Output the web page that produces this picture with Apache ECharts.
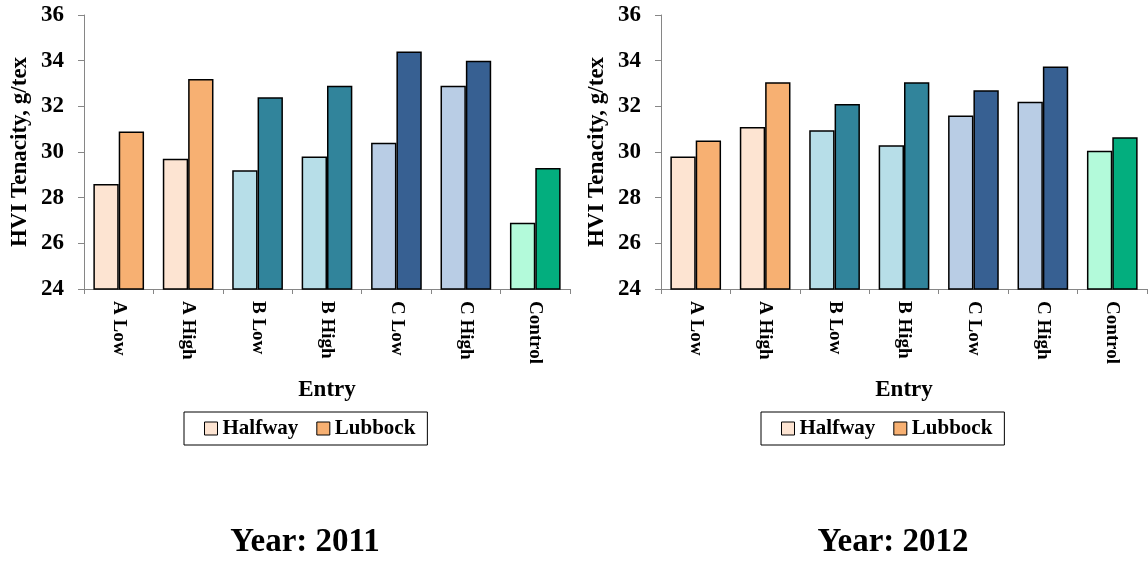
<!DOCTYPE html>
<html>
<head>
<meta charset="utf-8">
<script src="https://cdn.jsdelivr.net/npm/echarts@6/dist/echarts.min.js"></script>
<style>
html,body{margin:0;padding:0;background:#fff;}
#chart{width:1148px;height:561px;}
</style>
</head>
<body>
<div id="chart"></div>
<script>
const categories = ['A Low', 'A High', 'B Low', 'B High', 'C Low', 'C High', 'Control'];
const seriesNames = ['Halfway', 'Lubbock'];
const halfway2011 = [28.6, 29.7, 29.2, 29.8, 30.4, 32.9, 26.9];
const lubbock2011 = [30.9, 33.2, 32.4, 32.9, 34.4, 34.0, 29.3];
const halfway2012 = [29.8, 31.1, 30.95, 30.3, 31.6, 32.2, 30.05];
const lubbock2012 = [30.5, 33.05, 32.1, 33.05, 32.7, 33.75, 30.65];
const halfwayColors = ['#FDE4D2', '#FDE4D2', '#B7DEE8', '#B7DEE8', '#B9CDE5', '#B9CDE5', '#B3FADA'];
const lubbockColors = ['#F7B072', '#F7B072', '#31849B', '#31849B', '#376092', '#376092', '#03AE7E'];
const yTicks = [24, 26, 28, 30, 32, 34, 36];
const yearLabels = ['Year: 2011', 'Year: 2012'];

const FONT = '"Liberation Serif", "Times New Roman", serif';

function mkData(vals, cols) {
  return vals.map((v, i) => ({ value: v, itemStyle: { color: cols[i] } }));
}

const grids = [
  { left: 84, top: 15, width: 486, height: 274 },
  { left: 661, top: 15, width: 486, height: 274 }
];

const xAxes = grids.map((g, i) => ({
  type: 'category',
  gridIndex: i,
  data: categories,
  name: 'Entry',
  nameLocation: 'middle',
  nameGap: 90,
  nameTextStyle: { fontFamily: FONT, fontWeight: 'bold', fontSize: 23, color: '#000' },
  axisLine: { lineStyle: { color: '#868686', width: 1 } },
  axisTick: { show: true, length: 5, lineStyle: { color: '#868686' } },
  axisLabel: { rotate: -90, margin: 12, fontFamily: FONT, fontWeight: 'bold', fontSize: 19, color: '#000' }
}));

const yAxes = grids.map((g, i) => ({
  type: 'value',
  gridIndex: i,
  min: yTicks[0],
  max: yTicks[yTicks.length - 1],
  interval: 2,
  name: 'HVI Tenacity, g/tex',
  nameLocation: 'middle',
  nameGap: 52,
  nameTextStyle: { fontFamily: FONT, fontWeight: 'bold', fontSize: 23, color: '#000' },
  splitLine: { show: false },
  axisLine: { show: true, lineStyle: { color: '#868686', width: 1 } },
  axisTick: { show: true, length: 6, lineStyle: { color: '#868686' } },
  axisLabel: { margin: 20, fontFamily: FONT, fontWeight: 'bold', fontSize: 23, color: '#000' }
}));

const datasets = [
  [halfway2011, lubbock2011],
  [halfway2012, lubbock2012]
];
const series = [];
datasets.forEach((pair, gi) => {
  pair.forEach((vals, si) => {
    const cols = si === 0 ? halfwayColors : lubbockColors;
    series.push({
      type: 'bar',
      name: seriesNames[si],
      xAxisIndex: gi,
      yAxisIndex: gi,
      barGap: '0%',
      barCategoryGap: '27%',
      itemStyle: { color: cols[0], borderColor: '#000', borderWidth: 1.5, borderJoin: 'miter' },
      data: mkData(vals, cols)
    });
  });
});

const legendBase = {
  orient: 'horizontal',
  icon: 'rect',
  itemWidth: 13,
  itemHeight: 13,
  itemGap: 18,
  borderColor: '#000',
  borderWidth: 1,
  padding: [6, 12, 6, 20],
  itemStyle: { borderColor: '#000', borderWidth: 1 },
  textStyle: { fontFamily: FONT, fontWeight: 'bold', fontSize: 21, color: '#000' },
  data: seriesNames,
  selectedMode: false
};

const option = {
  animation: false,
  backgroundColor: '#fff',
  grid: grids,
  xAxis: xAxes,
  yAxis: yAxes,
  series: series,
  legend: [
    Object.assign({}, legendBase, { left: 184, top: 412 }),
    Object.assign({}, legendBase, { left: 761, top: 412 })
  ],
  graphic: [
    { type: 'text', x: 305, y: 542, style: { text: yearLabels[0], font: 'bold 33px ' + FONT, fill: '#000', textAlign: 'center', textVerticalAlign: 'middle' } },
    { type: 'text', x: 893, y: 542, style: { text: yearLabels[1], font: 'bold 33px ' + FONT, fill: '#000', textAlign: 'center', textVerticalAlign: 'middle' } }
  ]
};

const chart = echarts.init(document.getElementById('chart'), null, { renderer: 'canvas' });
chart.setOption(option);
</script>
</body>
</html>
